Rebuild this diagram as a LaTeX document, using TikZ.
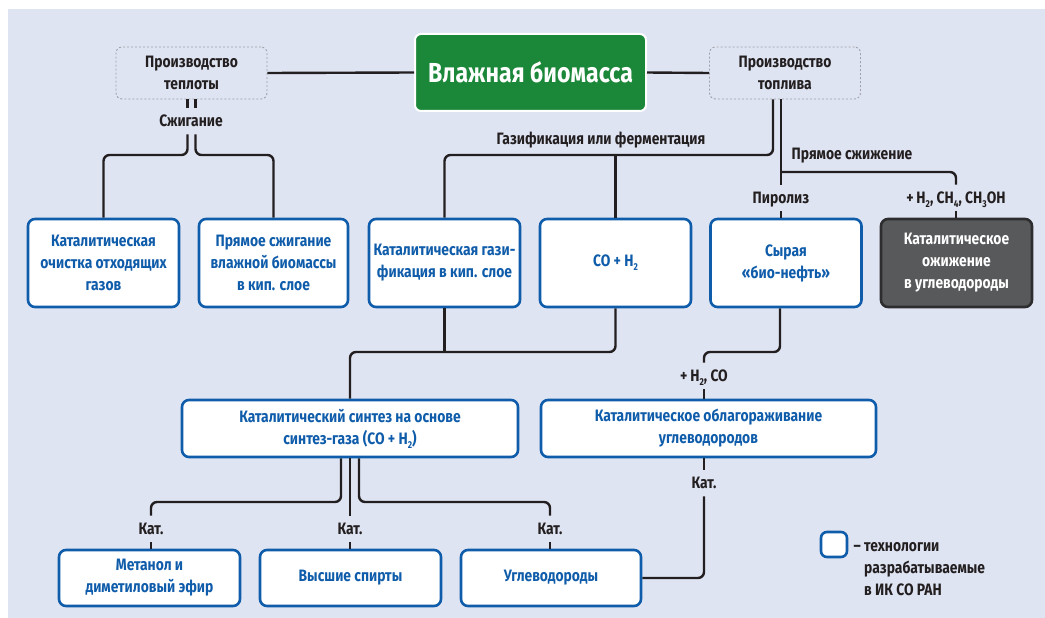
\documentclass[tikz,border=0pt]{standalone}
\usepackage{fontspec}
\setmainfont{Fira Sans}[FakeStretch=0.84]
\usetikzlibrary{calc}
\definecolor{bg}{RGB}{223,228,242}
\definecolor{tblue}{RGB}{15,92,170}
\definecolor{tgreen}{RGB}{27,135,57}
\definecolor{tdark}{RGB}{35,31,32}
\definecolor{tgrayfill}{RGB}{88,89,91}
\definecolor{tgrayline}{RGB}{45,45,47}
\definecolor{tdash}{RGB}{160,160,170}
\newcommand\lowsub[1]{\raisebox{-0.45ex}{\fontsize{10}{10}\selectfont #1}}
\tikzset{
  every node/.style={font=\bfseries\fontsize{16.5}{22}\selectfont},
  tbox/.style={draw=tblue, line width=2.6pt, rounded corners=7pt, fill=white, text=tblue, align=center, inner sep=1pt, minimum width=151pt, minimum height=88pt},
  gbox/.style={draw=tgrayline, line width=2.6pt, rounded corners=7pt, fill=tgrayfill, text=white, align=center, inner sep=1pt, minimum width=151pt, minimum height=88pt},
  dbox/.style={draw=tdash, line width=0.9pt, dash pattern=on 2pt off 2pt, rounded corners=6pt, fill=bg, text=tdark, align=center, minimum width=151pt, minimum height=52pt},
  lab/.style={text=tdark, inner xsep=2pt, inner ysep=7pt, text height=11.5pt, text depth=1pt},
  conn/.style={draw=tdark, line width=2.4pt, rounded corners=6pt},
}
\begin{document}
\begin{tikzpicture}[x=1pt,y=-1pt]
\useasboundingbox (0,0) rectangle (1045,618);
\fill[white] (0,0) rectangle (1045,618);
\fill[bg] (8,9) rectangle (1045,618);

% top row
\node[dbox] (heat) at (191.5,73) {Производство\\теплоты};
\node[dbox] (fuel) at (785,73) {Производство\\топлива};
\node[draw=white, line width=2pt, fill=tgreen, rounded corners=6pt, text=white, minimum width=231pt, minimum height=77pt, font=\bfseries\fontsize{27.5}{30}\selectfont] (bio) at (530.5,72.5) {Влажная биомасса};

% labels
\node[lab] (burn) at (191,121) {Сжигание};
\node[lab] (gas) at (601,139) {Газификация или ферментация};
\node[lab] (liq) at (852,154) {Прямое сжижение};
\node[lab] (pyro) at (781,198) {Пиролиз};
\node[lab] (h2lab) at (956,198) {+\,H\lowsub{2}, CH\lowsub{4}, CH\lowsub{3}OH};
\node[lab] (h2co) at (704,376) {+\,H\lowsub{2}, CO};
\node[lab] (kat4) at (704,483) {Кат.};
\node[lab] (kat1) at (151,529) {Кат.};
\node[lab] (kat2) at (350,529) {Кат.};
\node[lab] (kat3) at (550,529) {Кат.};

% row 1 boxes
\node[tbox] (b1) at (103.5,263) {Каталитическая\\очистка отходящих\\газов};
\node[tbox, minimum width=149pt] (b2) at (273.5,263) {Прямое сжигание\\влажной биомассы\\в кип. слое};
\node[tbox] (b3) at (444.5,263) {Каталитическая гази-\\фикация в кип. слое};
\node[tbox] (b4) at (615.5,263) {CO + H\lowsub{2}};
\node[tbox] (b5) at (786,263) {Сырая\\«био-нефть»};
\node[gbox] (b6) at (956.5,263) {Каталитическое\\ожижение\\в углеводороды};

% row 2
\node[tbox, minimum width=336pt, minimum height=57pt] (syn) at (350,428.5) {Каталитический синтез на основе\\синтез-газа (CO + H\lowsub{2})};
\node[tbox, minimum width=335pt, minimum height=57pt] (upg) at (708.5,428.5) {Каталитическое облагораживание\\углеводородов};

% row 3
\node[tbox, minimum width=181pt, minimum height=56pt] (m1) at (149.5,578) {Метанол и\\диметиловый эфир};
\node[tbox, minimum width=181pt, minimum height=56pt] (m2) at (350.5,578) {Высшие спирты};
\node[tbox, minimum width=180pt, minimum height=56pt] (m3) at (551,578) {Углеводороды};

% legend
\node[tbox, minimum width=26pt, minimum height=25pt, rounded corners=6pt] (leg) at (834,544.5) {};
\node[text=tdark, align=left, anchor=west, inner sep=0pt] (legtext) at (864,569) {\llap{– }технологии\\разрабатываемые\\в ИК СО РАН};

% connectors top
\draw[conn] (heat.east) -- (bio.west);
\draw[conn] (bio.east) -- (fuel.west);

% heat
\draw[conn] ([xshift=-4pt]heat.south) -- ([xshift=-4pt]heat.south |- burn.north);
\draw[conn] ([xshift=4pt]heat.south) -- ([xshift=4pt]heat.south |- burn.north);
\draw[conn] ([xshift=-4pt]heat.south |- burn.south) |- ($(b1.north |- 0,155)$) -- (b1.north);
\draw[conn] ([xshift=4pt]heat.south |- burn.south) |- ($(b2.north |- 0,155)$) -- (b2.north);

% gasification
\draw[conn] ([xshift=-12pt]fuel.south) |- ($(b3.north |- 0,155)$) -- (b3.north);
\draw[conn] (b4.north) -- (b4.north |- 0,155);

% liquefaction / pyrolysis
\draw[conn] ([xshift=-4pt]fuel.south) -- (pyro.north);
\draw[conn] ($(pyro.north |- 0,172)$) -| (h2lab.north);
\draw[conn] (pyro.south) -- (pyro.south |- b5.north);
\draw[conn] (h2lab.south) -- (h2lab.south |- b6.north);

% row1 -> row2
\draw[conn] (b3.south) -- (b3.south |- 0,352);
\draw[conn] (b4.south) |- ($(syn.north |- 0,352)$) -- (syn.north);
\draw[conn] ([xshift=-6pt]b5.south) |- ($(h2co.north |- 0,352)$) -- (h2co.north);
\draw[conn] (h2co.south) -- (h2co.south |- upg.north);

% upgrading -> hydrocarbons
\draw[conn] (h2co.south |- upg.south) -- (kat4.north);
\draw[conn] (kat4.south) |- (m3.east);

% synthesis -> products
\draw[conn] ([xshift=-9pt]syn.south) |- ($(kat1.north |- 0,502)$) -- (kat1.north);
\draw[conn] (syn.south) -- (kat2.north);
\draw[conn] ([xshift=9pt]syn.south) |- ($(kat3.north |- 0,502)$) -- (kat3.north);
\draw[conn] (kat1.south) -- (kat1.south |- m1.north);
\draw[conn] (kat2.south) -- (kat2.south |- m2.north);
\draw[conn] (kat3.south) -- (kat3.south |- m3.north);
\end{tikzpicture}
\end{document}
